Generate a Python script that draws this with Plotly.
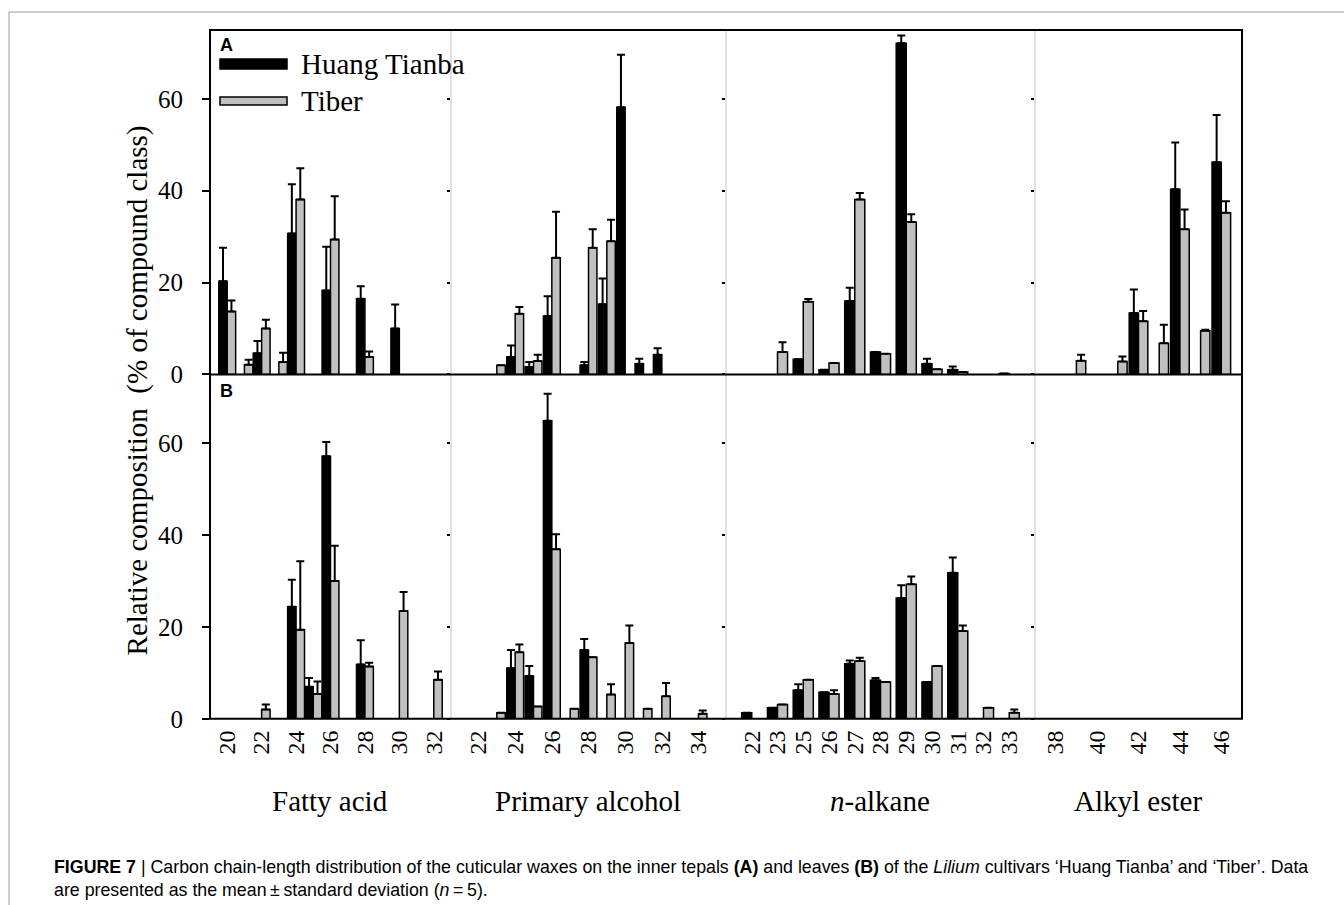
import plotly.graph_objects as go

W, H = 1344, 905          # target picture geometry
H_LAYOUT = 920            # the page renders the figure 15 px shorter than its layout height

# ---------------- data ----------------
sections = ["Fatty acid", "Primary alcohol", "<i>n</i>-alkane", "Alkyl ester"]
series_names = ["Huang Tianba", "Tiber"]

# Fatty acid
fa_carbons = [20, 21, 22, 23, 24, 25, 26, 28, 30, 32]
fa_ticks = [20, 22, 24, 26, 28, 30, 32]
fa_A_ht = [20.3, None, 4.6, None, 30.7, None, 18.3, 16.5, 10.0, None]
fa_A_ht_err = [27.6, None, 7.3, None, 41.4, None, 27.8, 19.2, 15.2, None]
fa_A_tb = [13.7, 2.1, 10.0, 2.7, 38.1, None, 29.4, 3.8, None, None]
fa_A_tb_err = [16.1, 3.2, 11.9, 4.7, 44.9, None, 38.8, 5.0, None, None]
fa_B_ht = [None, None, None, None, 24.4, 7.0, 57.2, 11.8, None, None]
fa_B_ht_err = [None, None, None, None, 30.3, 8.9, 60.3, 17.1, None, None]
fa_B_tb = [None, None, 2.0, None, 19.4, 5.4, 30.0, 11.4, 23.5, 8.5]
fa_B_tb_err = [None, None, 3.1, None, 34.3, 8.1, 37.7, 12.2, 27.6, 10.3]

# Primary alcohol
pa_carbons = [23, 24, 25, 26, 27, 28, 29, 30, 31, 32, 34]
pa_ticks = [22, 24, 26, 28, 30, 32, 34]
pa_A_ht = [None, 3.8, 1.6, 12.7, None, 2.0, 15.3, 58.2, 2.3, 4.3, None]
pa_A_ht_err = [None, 6.3, 2.7, 17.0, None, 2.7, 20.9, 69.6, 3.4, 5.7, None]
pa_A_tb = [2.0, 13.2, 2.9, 25.4, None, 27.6, 29.0, None, None, None, None]
pa_A_tb_err = [2.0, 14.7, 4.3, 35.4, None, 31.6, 33.7, None, None, None, None]
pa_B_ht = [None, 11.0, 9.3, 64.9, None, 15.0, None, None, None, None, None]
pa_B_ht_err = [None, 15.0, 11.5, 70.8, None, 17.4, None, None, None, None, None]
pa_B_tb = [1.3, 14.5, 2.7, 36.9, 2.2, 13.4, 5.3, 16.5, 2.2, 4.9, 1.1]
pa_B_tb_err = [1.3, 16.2, 2.7, 40.2, 2.2, 13.4, 7.5, 20.3, 2.2, 7.8, 1.8]

# n-alkane (categorical positions)
al_labels = ["22", "23", "25", "26", "27", "28", "29", "30", "31", "32", "33"]
al_A_ht = [None, None, 3.3, 1.0, 16.0, 4.9, 72.1, 2.3, 1.0, None, 0.2]
al_A_ht_err = [None, None, 3.3, 1.0, 18.9, 4.9, 73.8, 3.4, 1.7, None, 0.2]
al_A_tb = [None, 4.9, 15.8, 2.5, 38.1, 4.5, 33.2, 1.1, 0.5, None, None]
al_A_tb_err = [None, 7.0, 16.4, 2.5, 39.5, 4.5, 34.9, 1.1, 0.5, None, None]
al_B_ht = [1.3, 2.4, 6.2, 5.8, 12.0, 8.4, 26.3, 8.0, 31.8, None, None]
al_B_ht_err = [1.3, 2.4, 7.5, 5.8, 12.7, 8.9, 29.1, 8.0, 35.1, None, None]
al_B_tb = [None, 3.1, 8.5, 5.4, 12.6, 8.0, 29.3, 11.5, 19.1, 2.4, 1.3]
al_B_tb_err = [None, 3.1, 8.5, 6.2, 13.3, 8.0, 31.0, 11.5, 20.3, 2.4, 2.0]

# Alkyl ester
ae_carbons = [38, 39, 40, 41, 42, 43, 44, 45, 46]
ae_ticks = [38, 40, 42, 44, 46]
ae_A_ht = [None, None, None, None, 13.4, None, 40.3, None, 46.2]
ae_A_ht_err = [None, None, None, None, 18.5, None, 50.5, None, 56.5]
ae_A_tb = [None, 3.0, None, 2.8, 11.6, 6.8, 31.6, 9.5, 35.2]
ae_A_tb_err = [None, 4.3, None, 3.9, 13.8, 10.8, 35.9, 9.7, 37.7]
ae_B_ht = [None] * 9
ae_B_ht_err = [None] * 9
ae_B_tb = [None] * 9
ae_B_tb_err = [None] * 9

y_ticks = [0, 20, 40, 60]

# ---------------- styling / layout ----------------
SERIF = "Liberation Serif"
SANS = "Liberation Sans"
BLACK = "#000000"
GREY = "#c0c0c0"

def px(x):
    return x / W

def py(y):
    return 1 - y / H

X_EDGES = [210, 451, 726, 1035, 1242]
Y_TOP, Y_MID, Y_BOT = 30, 374, 718

al_x = list(range(len(al_labels)))
sec_cfg = [
    dict(x=fa_carbons, rng=[19, 33], tv=fa_ticks, tt=[str(v) for v in fa_ticks], w=0.49,
         A=(fa_A_ht, fa_A_ht_err, fa_A_tb, fa_A_tb_err), B=(fa_B_ht, fa_B_ht_err, fa_B_tb, fa_B_tb_err)),
    dict(x=pa_carbons, rng=[20.5, 35.5], tv=pa_ticks, tt=[str(v) for v in pa_ticks], w=0.46,
         A=(pa_A_ht, pa_A_ht_err, pa_A_tb, pa_A_tb_err), B=(pa_B_ht, pa_B_ht_err, pa_B_tb, pa_B_tb_err)),
    dict(x=al_x, rng=[-1, 11], tv=al_x, tt=al_labels, w=0.39,
         A=(al_A_ht, al_A_ht_err, al_A_tb, al_A_tb_err), B=(al_B_ht, al_B_ht_err, al_B_tb, al_B_tb_err)),
    dict(x=ae_carbons, rng=[37, 47], tv=ae_ticks, tt=[str(v) for v in ae_ticks], w=0.45,
         A=(ae_A_ht, ae_A_ht_err, ae_A_tb, ae_A_tb_err), B=(ae_B_ht, ae_B_ht_err, ae_B_tb, ae_B_tb_err)),
]

def plus(vals, errs):
    out = []
    for v, e in zip(vals, errs):
        if v is None:
            out.append(None)
        elif e is None:
            out.append(0)
        else:
            out.append(max(e - v, 0))
    return out

fig = go.Figure()
layout_axes = {}

for ci, cfg in enumerate(sec_cfg):
    for ri, panel in enumerate(["A", "B"]):
        n = ri * 4 + ci + 1
        xa = "x" if n == 1 else f"x{n}"
        ya = "y" if n == 1 else f"y{n}"
        ht, hte, tb, tbe = cfg[panel]
        w = cfg["w"]
        for vals, errs, color, off, name in [
            (ht, hte, BLACK, -w, series_names[0]),
            (tb, tbe, GREY, 0, series_names[1]),
        ]:
            fig.add_trace(go.Bar(
                x=cfg["x"], y=vals, width=w, offset=off, name=name,
                xaxis=xa, yaxis=ya, showlegend=False,
                marker=dict(color=color, line=dict(color=BLACK, width=1.5)),
                error_y=dict(type="data", symmetric=False, array=plus(vals, errs),
                             arrayminus=[0] * len(vals), color=BLACK, thickness=2, width=4),
            ))
        y0 = Y_MID if ri == 0 else Y_BOT
        y1 = Y_TOP if ri == 0 else Y_MID
        layout_axes["xaxis" if n == 1 else f"xaxis{n}"] = dict(
            domain=[px(X_EDGES[ci]), px(X_EDGES[ci + 1])], range=cfg["rng"],
            anchor=ya, tickmode="array", tickvals=cfg["tv"], ticktext=cfg["tt"],
            showticklabels=(ri == 1), tickangle=-90, ticks="",
            tickfont=dict(family=SERIF, size=24, color=BLACK), ticklabelstandoff=6,
            showgrid=False, zeroline=False, showline=False, fixedrange=True,
        )
        layout_axes["yaxis" if n == 1 else f"yaxis{n}"] = dict(
            domain=[py(y0), py(y1)], range=[0, 75], anchor=xa,
            tickmode="array", tickvals=y_ticks, showticklabels=(ci == 0),
            ticks="outside", ticklen=(7 if ci == 0 else 3), tickwidth=2, tickcolor=BLACK,
            tickfont=dict(family=SERIF, size=25, color=BLACK), ticklabelstandoff=14,
            showgrid=False, zeroline=False, showline=False, fixedrange=True,
        )

shapes = []
# outer light frame of the figure
shapes.append(dict(type="line", xref="paper", yref="paper", x0=px(9), x1=1, y0=py(12), y1=py(12),
                   line=dict(color="#9a9a9a", width=1)))
shapes.append(dict(type="line", xref="paper", yref="paper", x0=px(9), x1=px(9), y0=py(12), y1=0,
                   line=dict(color="#9a9a9a", width=1)))
# section dividers
for xe in X_EDGES[1:-1]:
    shapes.append(dict(type="line", xref="paper", yref="paper", x0=px(xe), x1=px(xe),
                       y0=py(Y_TOP), y1=py(Y_BOT), line=dict(color="#c4c4c4", width=1), layer="below"))
# plot frame and middle line
shapes.append(dict(type="rect", xref="paper", yref="paper", x0=px(210), x1=px(1242),
                   y0=py(Y_BOT), y1=py(Y_TOP), line=dict(color=BLACK, width=2), layer="above"))
shapes.append(dict(type="line", xref="paper", yref="paper", x0=px(210), x1=px(1242),
                   y0=py(Y_MID), y1=py(Y_MID), line=dict(color=BLACK, width=2), layer="above"))
# legend swatches
shapes.append(dict(type="rect", xref="paper", yref="paper", x0=px(220), x1=px(287), y0=py(69), y1=py(59),
                   fillcolor=BLACK, line=dict(color=BLACK, width=1.5)))
shapes.append(dict(type="rect", xref="paper", yref="paper", x0=px(220), x1=px(287), y0=py(105), y1=py(97),
                   fillcolor=GREY, line=dict(color=BLACK, width=1.5)))

ann = []
def add_text(x, y, text, size, family=SERIF, xanchor="center", yanchor="middle", angle=0):
    ann.append(dict(x=px(x), y=py(y), xref="paper", yref="paper", text=text, showarrow=False,
                    xanchor=xanchor, yanchor=yanchor, textangle=angle,
                    font=dict(family=family, size=size, color=BLACK)))

add_text(299, 64, series_names[0], 29, xanchor="left")
add_text(299, 101, series_names[1], 29, xanchor="left")
add_text(218, 45, "<b>A</b>", 18, family=SANS, xanchor="left")
add_text(218, 391, "<b>B</b>", 18, family=SANS, xanchor="left")
add_text(137, 390, "Relative composition  (% of compound class)", 29, angle=-90)
sec_centers = [330, 588, 880, 1138]
for cx, title in zip(sec_centers, sections):
    add_text(cx, 800, title, 29)

cap1 = ("<b>FIGURE 7</b> | Carbon chain-length distribution of the cuticular waxes on the inner tepals "
        "<b>(A)</b> and leaves <b>(B)</b> of the <i>Lilium</i> cultivars \u2018Huang Tianba\u2019 and "
        "\u2018Tiber\u2019. Data")
cap2 = "are presented as the mean\u2009\u00b1\u2009standard deviation (<i>n</i>\u2009=\u20095)."
add_text(52, 866, cap1, 17.8, family=SANS, xanchor="left")
add_text(52, 889, cap2, 17.8, family=SANS, xanchor="left")

fig.update_layout(
    width=W, height=H_LAYOUT, autosize=False, margin=dict(l=0, r=0, t=0, b=0),
    paper_bgcolor="white", plot_bgcolor="rgba(0,0,0,0)",
    barmode="overlay", showlegend=False,
    shapes=shapes, annotations=ann, **layout_axes,
)

fig.write_html("out.html", config={"displayModeBar": False, "responsive": False})
